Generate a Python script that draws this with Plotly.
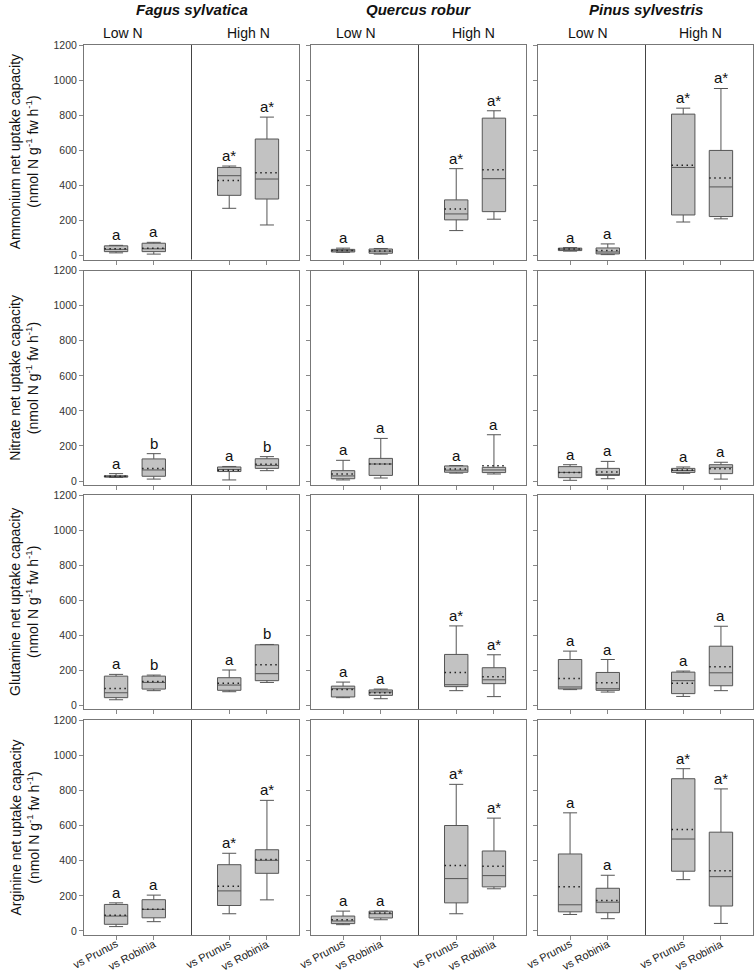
import plotly.graph_objects as go

# ---------------- data ----------------
species = ["Fagus sylvatica", "Quercus robur", "Pinus sylvestris"]
measures = ["Ammonium", "Nitrate", "Glutamine", "Arginine"]
groups = ["Low N", "High N"]
tick_text = ["vs Prunus", "vs Robinia", "vs Prunus", "vs Robinia"]
positions = [0, 1, 3, 4]

# each list: [LowN-Prunus, LowN-Robinia, HighN-Prunus, HighN-Robinia]
# Ammonium
amm_lw = [[15, 8, 269, 174], [18, 8, 142, 207], [25, 5, 191, 209]]
amm_q1 = [[22, 22, 343, 322], [20, 13, 203, 250], [28, 9, 231, 222]]
amm_med = [[35, 38, 455, 436], [27, 25, 237, 438], [36, 20, 502, 391]]
amm_q3 = [[55, 70, 502, 664], [35, 37, 317, 783], [42, 43, 806, 599]]
amm_uw = [[58, 75, 510, 789], [42, 40, 495, 825], [45, 66, 840, 952]]
amm_mean = [[38, 42, 428, 472], [28, 26, 265, 489], [37, 28, 514, 442]]
amm_let = [["a", "a", "a*", "a*"], ["a", "a", "a*", "a*"], ["a", "a", "a*", "a*"]]

# Nitrate
nit_lw = [[20, 11, 6, 59], [6, 17, 45, 40], [4, 13, 44, 11]]
nit_q1 = [[22, 27, 54, 72], [13, 32, 50, 48], [19, 32, 49, 42]]
nit_med = [[26, 63, 66, 89], [29, 97, 62, 63], [49, 34, 60, 78]]
nit_q3 = [[30, 126, 80, 127], [59, 129, 86, 78], [82, 72, 72, 93]]
nit_uw = [[42, 156, 83, 139], [118, 243, 88, 264], [93, 112, 80, 107]]
nit_mean = [[27, 72, 62, 95], [40, 97, 68, 87], [49, 51, 63, 70]]
nit_let = [["a", "b", "a", "b"], ["a", "a", "a", "a"], ["a", "a", "a", "a"]]

# Glutamine
glu_lw = [[30, 82, 76, 129], [42, 36, 82, 48], [88, 74, 49, 82]]
glu_q1 = [[42, 91, 84, 139], [46, 55, 105, 122], [92, 84, 65, 110]]
glu_med = [[70, 129, 114, 179], [93, 74, 116, 144], [103, 93, 139, 184]]
glu_q3 = [[165, 165, 156, 344], [108, 86, 289, 213], [260, 186, 188, 336]]
glu_uw = [[175, 171, 200, 346], [131, 91, 452, 287], [308, 260, 194, 450]]
glu_mean = [[95, 135, 124, 230], [89, 70, 186, 162], [152, 127, 124, 219]]
glu_let = [["a", "b", "a", "b"], ["a", "a", "a*", "a*"], ["a", "a", "a", "a"]]

# Arginine
arg_lw = [[25, 53, 98, 177], [36, 64, 98, 240], [94, 70, 292, 43]]
arg_q1 = [[38, 75, 145, 328], [42, 74, 160, 251], [109, 104, 340, 142]]
arg_med = [[85, 123, 228, 402], [57, 98, 298, 315], [149, 164, 523, 309]]
arg_q3 = [[151, 178, 377, 462], [85, 113, 600, 455], [438, 243, 866, 562]]
arg_uw = [[160, 204, 442, 743], [113, 113, 834, 642], [672, 317, 923, 808]]
arg_mean = [[89, 123, 255, 406], [64, 102, 372, 368], [251, 174, 577, 343]]
arg_let = [["a", "a", "a*", "a*"], ["a", "a", "a*", "a*"], ["a", "a", "a*", "a*"]]

y_ticks = [0, 200, 400, 600, 800, 1000, 1200]

stats = [
    (amm_lw, amm_q1, amm_med, amm_q3, amm_uw, amm_mean, amm_let),
    (nit_lw, nit_q1, nit_med, nit_q3, nit_uw, nit_mean, nit_let),
    (glu_lw, glu_q1, glu_med, glu_q3, glu_uw, glu_mean, glu_let),
    (arg_lw, arg_q1, arg_med, arg_q3, arg_uw, arg_mean, arg_let),
]

# ---------------- layout geometry (pixels) ----------------
W, H = 756, 978
col_px = [(84, 299), (311, 526), (538, 753)]
row_px = [(45, 259.5), (270.7, 485), (495, 709), (720, 935)]
low_label_x = [0.18, 0.35, 0.47]
high_label_x = [3.5, 3.45, 3.47]

FONT = "Liberation Sans, Arial, sans-serif"
BOX_W = 0.62
FILL = "#c2c2c2"
EDGE = "#555555"

fig = go.Figure()
annotations = []
shapes = []

for r in range(4):
    lw, q1, med, q3, uw, mn, let = stats[r]
    for c in range(3):
        n = r * 3 + c + 1
        xa = "x" if n == 1 else f"x{n}"
        ya = "y" if n == 1 else f"y{n}"
        fig.add_trace(go.Box(
            x=positions, lowerfence=lw[c], q1=q1[c], median=med[c], q3=q3[c],
            upperfence=uw[c], width=BOX_W, whiskerwidth=0.6,
            fillcolor=FILL, line=dict(color=EDGE, width=1),
            boxpoints=False, xaxis=xa, yaxis=ya, showlegend=False,
            hoverinfo="skip"))
        mx, my = [], []
        for p, m in zip(positions, mn[c]):
            mx += [p - BOX_W / 2, p + BOX_W / 2, None]
            my += [m, m, None]
        fig.add_trace(go.Scatter(
            x=mx, y=my, mode="lines",
            line=dict(color="#222222", width=1.5, dash="1.5px,3.5px"),
            xaxis=xa, yaxis=ya, showlegend=False, hoverinfo="skip"))
        for p, u, t in zip(positions, uw[c], let[c]):
            annotations.append(dict(
                x=p, y=u, xref=xa, yref=ya, text=t, showarrow=False,
                yanchor="bottom", yshift=0, font=dict(family=FONT, size=15, color="#111")))
        shapes.append(dict(type="line", xref=xa, yref=f"{ya} domain",
                           x0=2, x1=2, y0=0, y1=1, line=dict(color="#444", width=1)))

        x0p, x1p = col_px[c]
        y0p, y1p = row_px[r]
        fig.layout[f"xaxis{'' if n == 1 else n}"] = dict(
            domain=[x0p / W, x1p / W], anchor=ya, range=[-0.85, 4.85],
            showgrid=False, zeroline=False, showline=True, linecolor="#777",
            linewidth=1, mirror=True, ticks="outside", ticklen=4, tickcolor="#888",
            tickvals=positions, showticklabels=False, automargin=False)
        fig.layout[f"yaxis{'' if n == 1 else n}"] = dict(
            domain=[1 - y1p / H, 1 - y0p / H], anchor=xa, range=[-22.8, 1200],
            showgrid=False, zeroline=False, showline=True, linecolor="#777",
            linewidth=1, mirror=True, ticks="outside", ticklen=4, tickcolor="#888",
            tickvals=y_ticks, showticklabels=(c == 0), automargin=False,
            tickfont=dict(family=FONT, size=10.5, color="#333"))

        # category labels under the bottom row, rotated like the original
        if r == 3:
            for p, t in zip(positions, tick_text):
                annotations.append(dict(
                    x=p, y=1 - (y1p + 1) / H, xref=xa, yref="paper", text=t,
                    showarrow=False, textangle=-28, xanchor="right", yanchor="top",
                    xshift=5, borderpad=0,
                    font=dict(family=FONT, size=11, color="#222")))

        if r == 0:
            annotations.append(dict(x=low_label_x[c], y=1 - 33 / H, xref=xa, yref="paper",
                                    text="Low N", showarrow=False, yanchor="middle",
                                    font=dict(family=FONT, size=14, color="#111")))
            annotations.append(dict(x=high_label_x[c], y=1 - 33 / H, xref=xa, yref="paper",
                                    text="High N", showarrow=False, yanchor="middle",
                                    font=dict(family=FONT, size=14, color="#111")))

for c in range(3):
    x0p, x1p = col_px[c]
    annotations.append(dict(x=(x0p + x1p) / 2 / W, y=1 - 10 / H, xref="paper", yref="paper",
                            text=f"<b><i>{species[c]}</i></b>", showarrow=False,
                            yanchor="middle", xanchor="center",
                            font=dict(family=FONT, size=15, color="#111")))

for r in range(4):
    y0p, y1p = row_px[r]
    annotations.append(dict(
        x=24 / W, y=1 - (y0p + y1p) / 2 / H, xref="paper", yref="paper",
        text=f"{measures[r]} net uptake capacity<br>(nmol N g<sup>-1</sup> fw h<sup>-1</sup>)",
        showarrow=False, textangle=-90, xanchor="center", yanchor="middle",
        font=dict(family=FONT, size=14, color="#111")))

fig.update_layout(
    width=W, height=H, margin=dict(l=0, r=0, t=0, b=0, pad=0, autoexpand=False),
    paper_bgcolor="white", plot_bgcolor="white",
    annotations=annotations, shapes=shapes, font=dict(family=FONT))

fig.write_html("out.html", config={"displayModeBar": False},
               post_script="document.body.style.margin='0';document.body.style.overflow='hidden';")
